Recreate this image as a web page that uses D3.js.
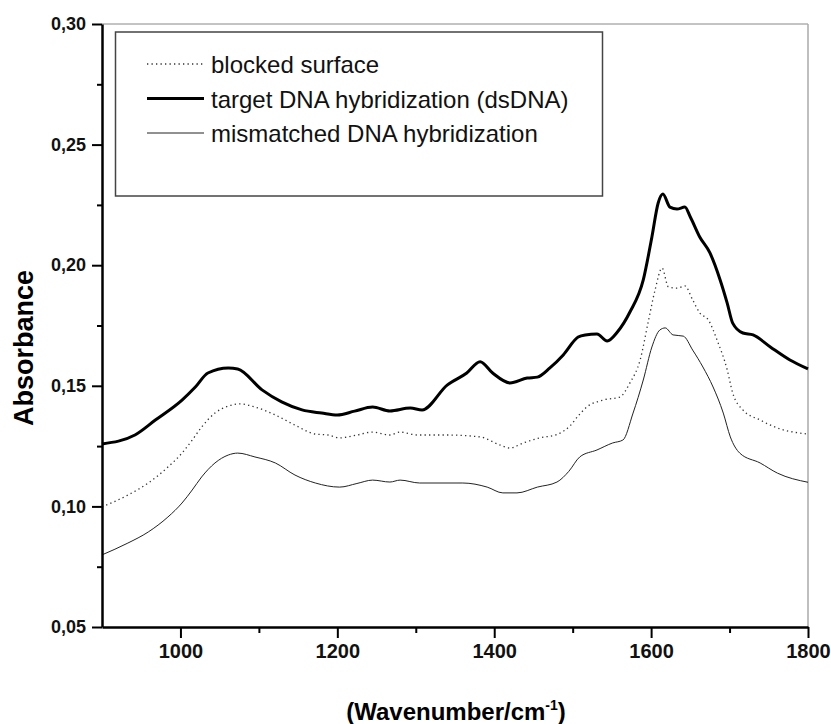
<!DOCTYPE html>
<html>
<head>
<meta charset="utf-8">
<script src="https://cdn.jsdelivr.net/npm/d3@7"></script>
<style>
  body { margin: 0; background: #fff; }
  svg { font-family: "Liberation Sans", Arial, sans-serif; }
</style>
</head>
<body>
<svg id="chart" width="831" height="724"></svg>
<script>
// wavenumber (cm-1), absorbance
const blocked = [
  [900,0.0998],[933,0.1047],[959,0.1097],[984,0.1163],[1002,0.1221],[1015,0.1275],[1027,0.1329],
  [1044,0.1387],[1061,0.1416],[1076,0.1425],[1095,0.1412],[1121,0.1379],[1146,0.1337],[1172,0.130],
  [1188,0.1296],[1203,0.1284],[1225,0.1296],[1245,0.1308],[1267,0.1296],[1280,0.1308],[1302,0.1296],
  [1340,0.1296],[1382,0.1288],[1407,0.1255],[1420,0.1242],[1437,0.1263],[1458,0.1284],[1480,0.1298],
  [1497,0.1335],[1507,0.1375],[1518,0.1412],[1539,0.1441],[1560,0.1453],[1573,0.1512],[1586,0.1607],
  [1596,0.176],[1605,0.1897],[1614,0.1988],[1622,0.1910],[1633,0.1905],[1643,0.1914],[1653,0.1856],
  [1662,0.1802],[1673,0.1773],[1684,0.169],[1697,0.1566],[1704,0.147],[1717,0.14],[1739,0.1358],
  [1761,0.1325],[1800,0.130]
];

const target = [
  [900,0.1259],[942,0.1296],[968,0.1358],[1002,0.1441],[1019,0.1495],[1035,0.1553],[1061,0.1574],
  [1073,0.157],[1104,0.1483],[1129,0.1433],[1155,0.140],[1180,0.1387],[1200,0.1379],[1222,0.1395],
  [1245,0.1412],[1267,0.1396],[1293,0.1408],[1308,0.140],[1340,0.1503],[1365,0.1553],[1382,0.160],
  [1398,0.1553],[1420,0.1512],[1442,0.1532],[1455,0.1536],[1471,0.1574],[1488,0.1628],[1507,0.1702],
  [1516,0.1711],[1531,0.1715],[1544,0.1686],[1557,0.1723],[1573,0.1806],[1590,0.1939],[1601,0.2117],
  [1609,0.2258],[1615,0.2295],[1624,0.2241],[1633,0.2233],[1643,0.2241],[1650,0.22],[1662,0.2117],
  [1675,0.2051],[1688,0.1939],[1697,0.1843],[1704,0.176],[1717,0.1719],[1730,0.1711],[1752,0.1661],
  [1777,0.1607],[1800,0.157]
];

const mismatched = [
  [900,0.0799],[933,0.0848],[959,0.0894],[984,0.0956],[1002,0.1014],[1015,0.1068],[1027,0.1122],
  [1044,0.118],[1061,0.1213],[1073,0.1221],[1095,0.1205],[1121,0.118],[1146,0.113],[1172,0.1097],
  [1203,0.108],[1225,0.1095],[1245,0.1109],[1267,0.1101],[1280,0.1109],[1305,0.1097],[1360,0.1097],
  [1391,0.108],[1411,0.1056],[1429,0.1056],[1455,0.108],[1480,0.1101],[1495,0.1145],[1509,0.1205],
  [1531,0.1234],[1551,0.1263],[1564,0.1275],[1577,0.1387],[1590,0.1524],[1601,0.1661],[1611,0.1731],
  [1618,0.174],[1628,0.1711],[1641,0.1706],[1653,0.1648],[1666,0.1578],[1679,0.1495],[1692,0.1387],
  [1701,0.1288],[1713,0.1221],[1739,0.118],[1761,0.1138],[1800,0.110]
];

const seriesNames = ["blocked surface", "target DNA hybridization (dsDNA)", "mismatched DNA hybridization"];
const xTicks = [1000, 1200, 1400, 1600, 1800];
const xMinor = [1100, 1300, 1500, 1700];
const yTicks = [0.05, 0.10, 0.15, 0.20, 0.25, 0.30];
const yMinor = [0.075, 0.125, 0.175, 0.225, 0.275];

const margin = { left: 102, top: 24, right: 23, bottom: 97 };
const W = 831 - margin.left - margin.right;
const H = 724 - margin.top - margin.bottom;

const svg = d3.select("#chart");
const g = svg.append("g").attr("transform", `translate(${margin.left},${margin.top})`);

const x = d3.scaleLinear().domain([900, 1800]).range([0, W]);
const y = d3.scaleLinear().domain([0.05, 0.30]).range([H, 0]);

// top and right frame
g.append("line").attr("x1", 0).attr("x2", W).attr("y1", 0).attr("y2", 0)
  .style("stroke", "#888").style("stroke-width", 1);
g.append("line").attr("x1", W).attr("x2", W).attr("y1", 0).attr("y2", H)
  .style("stroke", "#aaa").style("stroke-width", 1.5);

// curves
const line = d3.line().x(d => x(d[0])).y(d => y(d[1])).curve(d3.curveMonotoneX);
const styles = [
  { data: blocked, w: 1.3, dash: "1.3,3.2", color: "#333" },
  { data: target, w: 3, dash: null, color: "#000" },
  { data: mismatched, w: 1, dash: null, color: "#222" }
];
styles.forEach(s => {
  g.append("path").datum(s.data).attr("d", line)
    .style("fill", "none").style("stroke", s.color)
    .style("stroke-width", s.w).style("stroke-dasharray", s.dash);
});

// axes
const xAxis = g.append("g").attr("transform", `translate(0,${H})`)
  .call(d3.axisBottom(x).tickValues(xTicks).tickSize(11).tickSizeOuter(0).tickPadding(6)
    .tickFormat(d3.format("d")));
g.append("g").attr("transform", `translate(0,${H})`)
  .call(d3.axisBottom(x).tickValues(xMinor).tickSize(6).tickFormat("")).select(".domain").remove();
const yAxis = g.append("g")
  .call(d3.axisLeft(y).tickValues(yTicks).tickSize(10).tickSizeOuter(0).tickPadding(6)
    .tickFormat(d => d3.format(".2f")(d).replace(".", ",")));
g.append("g")
  .call(d3.axisLeft(y).tickValues(yMinor).tickSize(5).tickFormat("")).select(".domain").remove();

g.selectAll(".domain").style("stroke", "#000").style("stroke-width", 2.5);
g.selectAll(".tick line").style("stroke", "#000").style("stroke-width", 2);
xAxis.selectAll("text").style("font-size", "20px").style("font-weight", "bold").style("fill", "#111");
yAxis.selectAll("text").style("font-size", "18px").style("font-weight", "bold").style("fill", "#111");

// axis titles
svg.append("text").attr("x", 456).attr("y", 720).attr("text-anchor", "middle")
  .style("font-size", "24px").style("font-weight", "bold")
  .text("(Wavenumber/cm").append("tspan").attr("dy", -10).style("font-size", "14px").text("-1")
  .select(function() { return this.parentNode; })
  .append("tspan").attr("dy", 10).style("font-size", "24px").text(")");

svg.append("text").attr("transform", "translate(33,348) rotate(-90)")
  .attr("text-anchor", "middle").style("font-size", "27px").style("font-weight", "bold")
  .text("Absorbance");

// legend
const lg = svg.append("g");
lg.append("rect").attr("x", 115.5).attr("y", 32).attr("width", 487).attr("height", 164)
  .style("fill", "#fff").style("stroke", "#444").style("stroke-width", 1.5);
seriesNames.forEach((name, i) => {
  const cy = 64 + i * 34.5;
  lg.append("line").attr("x1", 147).attr("x2", 204).attr("y1", cy).attr("y2", cy)
    .style("stroke", styles[i].color).style("stroke-width", styles[i].w)
    .style("stroke-dasharray", styles[i].dash);
  lg.append("text").attr("x", 211).attr("y", cy + 9).style("font-size", "24px")
    .style("fill", "#111").text(name);
});
</script>
</body>
</html>
